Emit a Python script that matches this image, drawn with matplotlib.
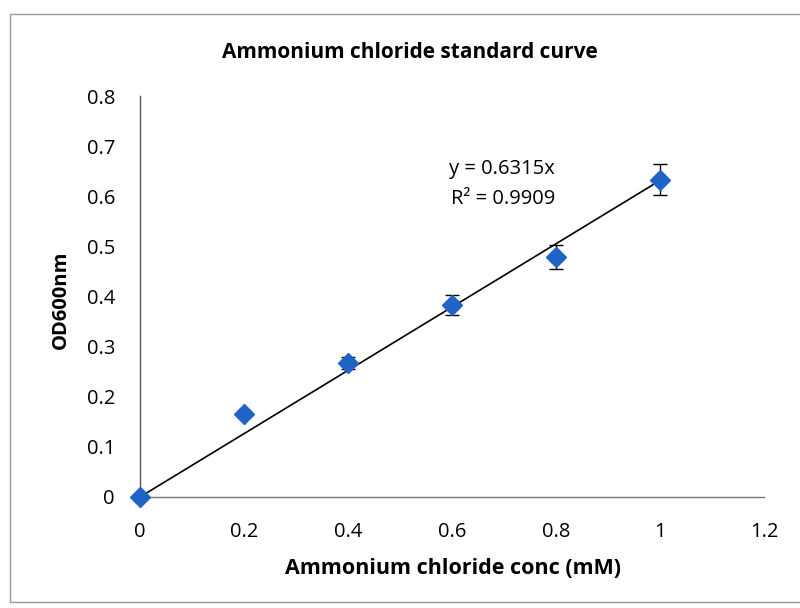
import matplotlib.pyplot as plt
from matplotlib.patches import Rectangle

plt.rcParams['font.family'] = ['Open Sans', 'DejaVu Sans']

# standard curve readings
conc = [0.0, 0.2, 0.4, 0.6, 0.8, 1.0]
od600 = [0.0, 0.165, 0.267, 0.383, 0.478, 0.633]
od_err = [0.0, 0.005, 0.012, 0.02, 0.024, 0.031]
slope = 0.6315
r_squared = 0.9909
fit_x = [0.0, 1.0]

x_ticks = [0, 0.2, 0.4, 0.6, 0.8, 1, 1.2]
y_ticks = [0, 0.1, 0.2, 0.3, 0.4, 0.5, 0.6, 0.7, 0.8]

fig = plt.figure(figsize=(8, 6.08), dpi=100)
ax = fig.add_axes([0.175, 0.1826, 0.78, 0.6595])

# chart area border
fig.patches.append(Rectangle((0.0125, 0.01), 1.2, 0.967, transform=fig.transFigure,
                             fill=False, edgecolor='#9a9a9a', linewidth=1.0))

ax.plot(fit_x, [slope * v for v in fit_x], color='black', linewidth=1.2, zorder=2)
ax.errorbar(conc, od600, yerr=od_err, fmt='D', color='#1f63c6', markersize=10,
            ecolor='black', elinewidth=1.0, capsize=5, capthick=1.0, zorder=3,
            clip_on=False)

ax.text(0.798, 0.654, f'y = {slope}x', ha='right', va='center', fontsize=14.5)
ax.text(0.798, 0.594, f'R\u00b2 = {r_squared}', ha='right', va='center', fontsize=14.5)

ax.set_xlim(0, 1.2)
ax.set_ylim(0, 0.8)
ax.set_xticks(x_ticks)
ax.set_xticklabels(['0', '0.2', '0.4', '0.6', '0.8', '1', '1.2'])
ax.set_yticks(y_ticks)
ax.set_yticklabels(['0', '0.1', '0.2', '0.3', '0.4', '0.5', '0.6', '0.7', '0.8'])
ax.tick_params(length=0, labelsize=14.5)
ax.tick_params(axis='x', pad=18)
ax.tick_params(axis='y', pad=18)
ax.spines['top'].set_visible(False)
ax.spines['right'].set_visible(False)
ax.spines['left'].set_color('#555555')
ax.spines['bottom'].set_color('#777777')
for sp in ax.spines.values():
    sp.set_linewidth(1.0)
ax.patch.set_alpha(0)

fig.text(410 / 800, 1 - 53 / 608, 'Ammonium chloride standard curve',
         ha='center', va='center', fontsize=15, fontweight='bold')
fig.text(453 / 800, 1 - 568 / 608, 'Ammonium chloride conc (mM)',
         ha='center', va='center', fontsize=15.5, fontweight='bold')
fig.text(61 / 800, 1 - 300 / 608, 'OD600nm', rotation=90,
         ha='center', va='center', fontsize=14.5, fontweight='bold')

fig.savefig('out.png', dpi=100)
